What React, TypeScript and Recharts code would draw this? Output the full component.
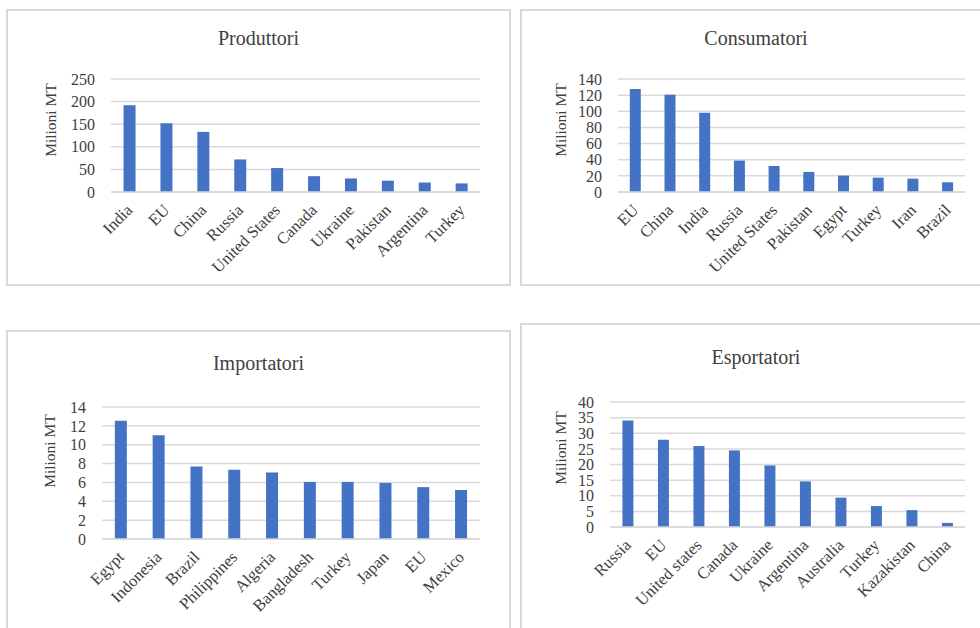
import React from 'react';
import { BarChart, Bar, XAxis, YAxis, CartesianGrid } from 'recharts';

const prodCountries = ['India', 'EU', 'China', 'Russia', 'United States', 'Canada', 'Ukraine', 'Pakistan', 'Argentina', 'Turkey'];
const prodValues = [192, 152, 133, 72, 53, 35, 30, 25, 21, 19];
const prodTicks = [0, 50, 100, 150, 200, 250];

const consCountries = ['EU', 'China', 'India', 'Russia', 'United States', 'Pakistan', 'Egypt', 'Turkey', 'Iran', 'Brazil'];
const consValues = [127.6, 120.5, 98.2, 38.9, 32.3, 24.9, 20.3, 17.8, 16.6, 12.0];
const consTicks = [0, 20, 40, 60, 80, 100, 120, 140];

const impCountries = ['Egypt', 'Indonesia', 'Brazil', 'Philippines', 'Algeria', 'Bangladesh', 'Turkey', 'Japan', 'EU', 'Mexico'];
const impValues = [12.55, 11.0, 7.7, 7.35, 7.05, 6.05, 6.05, 5.95, 5.5, 5.2];
const impTicks = [0, 2, 4, 6, 8, 10, 12, 14];

const expCountries = ['Russia', 'EU', 'United states', 'Canada', 'Ukraine', 'Argentina', 'Australia', 'Turkey', 'Kazakistan', 'China'];
const expValues = [34.1, 27.9, 25.9, 24.5, 19.7, 14.6, 9.4, 6.7, 5.4, 1.3];
const expTicks = [0, 5, 10, 15, 20, 25, 30, 35, 40];

const FONT = '"Liberation Serif", "Times New Roman", serif';
const TEXT = '#404040';
const GRID = '#d9d9d9';
const BAR = '#4472C4';

type Box = { left: number; top: number; width: number; height: number };
type Plot = { left: number; top: number; right: number; bottom: number };

type PanelProps = {
  title: string;
  names: string[];
  values: number[];
  ticks: number[];
  box: Box;
  frame: Box;
  plot: Plot;
  titleTop: number;
  labelX: number;
  labelY: number;
  gap: number;
};

const XTick = (props: any) => {
  const { x, y, payload } = props;
  return (
    <g transform={`translate(${x},${y + 7})`}>
      <text
        transform="rotate(-45)"
        textAnchor="end"
        dy="0.35em"
        fontSize={16.5}
        fill={TEXT}
        style={{ fontFamily: FONT }}
      >
        {payload.value}
      </text>
    </g>
  );
};

const Panel = ({ title, names, values, ticks, box, frame, plot, titleTop, labelX, labelY, gap }: PanelProps) => {
  const data = names.map((name, i) => ({ name, value: values[i] }));
  const marginTop = plot.top - box.top;
  const marginRight = box.left + box.width - plot.right;
  const yWidth = plot.left - box.left;
  const xHeight = box.height - marginTop - (plot.bottom - plot.top);
  const lx = labelX - box.left;
  const ly = labelY - box.top;
  return (
    <>
      <div
        style={{
          position: 'absolute',
          left: frame.left,
          top: frame.top,
          width: frame.width,
          height: frame.height,
          border: `2px solid ${GRID}`,
          boxSizing: 'border-box',
        }}
      />
      <div
        style={{
          position: 'absolute',
          left: frame.left,
          top: titleTop,
          width: frame.width,
          textAlign: 'center',
          fontFamily: FONT,
          fontSize: 20,
          lineHeight: '20px',
          color: TEXT,
        }}
      >
        {title}
      </div>
      <div
        style={{
          position: 'absolute',
          left: labelX - 60,
          top: labelY - 10,
          width: 120,
          height: 20,
          lineHeight: '20px',
          textAlign: 'center',
          transform: 'rotate(-90deg)',
          fontFamily: FONT,
          fontSize: 15.5,
          color: TEXT,
          whiteSpace: 'nowrap',
        }}
      >
        Milioni MT
      </div>
      <div style={{ position: 'absolute', left: box.left, top: box.top }}>
        <BarChart
          width={box.width}
          height={box.height}
          data={data}
          margin={{ top: marginTop, right: marginRight, bottom: 0, left: 0 }}
          barCategoryGap={gap + '%'}
        >
          <CartesianGrid vertical={false} stroke={GRID} strokeWidth={1.5} />
          <XAxis
            dataKey="name"
            interval={0}
            height={xHeight}
            tickLine={false}
            axisLine={{ stroke: GRID, strokeWidth: 1.5 }}
            tick={<XTick />}
          />
          <YAxis
            width={yWidth}
            domain={[ticks[0], ticks[ticks.length - 1]]}
            ticks={ticks}
            interval={0}
            axisLine={false}
            tickLine={false}
            tickMargin={10}
            tick={{ fontSize: 16, fill: TEXT, style: { fontFamily: FONT } }}
          />
          <Bar dataKey="value" fill={BAR} isAnimationActive={false} />
        </BarChart>
      </div>
    </>
  );
}

export default function App() {
  return (
    <div style={{ position: 'absolute', left: 0, top: 0, width: 980, height: 628, overflow: 'hidden', background: '#fff' }}>
      <Panel
        title="Produttori"
        names={prodCountries}
        values={prodValues}
        ticks={prodTicks}
        frame={{ left: 6, top: 9, width: 505, height: 277 }}
        box={{ left: 6, top: 9, width: 505, height: 277 }}
        plot={{ left: 111, top: 79, right: 480, bottom: 192 }}
        titleTop={28}
        labelX={51}
        labelY={120}
        gap={34}
      />
      <Panel
        title="Consumatori"
        names={consCountries}
        values={consValues}
        ticks={consTicks}
        frame={{ left: 520, top: 9, width: 472, height: 277 }}
        box={{ left: 520, top: 9, width: 472, height: 277 }}
        plot={{ left: 618, top: 79, right: 965, bottom: 192 }}
        titleTop={28}
        labelX={561}
        labelY={120}
        gap={34}
      />
      <Panel
        title="Importatori"
        names={impCountries}
        values={impValues}
        ticks={impTicks}
        frame={{ left: 6, top: 330, width: 505, height: 320 }}
        box={{ left: 6, top: 330, width: 505, height: 298 }}
        plot={{ left: 102, top: 407, right: 480, bottom: 539 }}
        titleTop={353}
        labelX={50}
        labelY={451}
        gap={34}
      />
      <Panel
        title="Esportatori"
        names={expCountries}
        values={expValues}
        ticks={expTicks}
        frame={{ left: 520, top: 323, width: 472, height: 320 }}
        box={{ left: 520, top: 323, width: 472, height: 305 }}
        plot={{ left: 610, top: 402, right: 965, bottom: 527 }}
        titleTop={347}
        labelX={561}
        labelY={448}
        gap={35}
      />
    </div>
  );
}
